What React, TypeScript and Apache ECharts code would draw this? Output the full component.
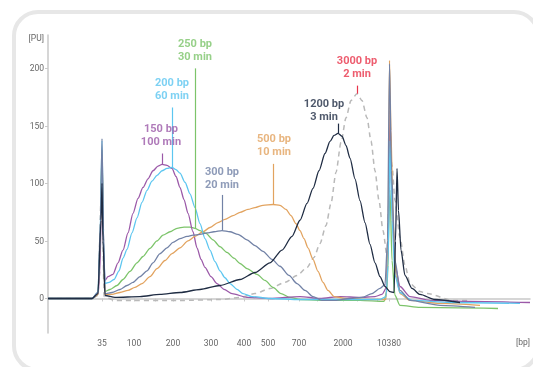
import React, { useEffect, useRef } from "react";
import * as echarts from "echarts";

// x = migration position (axis units), y = fluorescence [PU]
const xTickPositions = [54, 64, 86, 107, 125, 163, 196, 220, 240, 251, 269, 295, 309, 329, 341];
const xLabelPositions = [54, 86, 125, 163, 196, 220, 251, 295, 341];
const xLabelTexts = ["35", "100", "200", "300", "400", "500", "700", "2000", "10380"];
const yTickValues = [0, 50, 100, 150, 200];

const purple150: [number, number][] = [
  [0, 0], [44, 0], [50, 3.5], [52, 24], [54, 124], [55.5, 42], [57, 15.7], [60, 19], [65, 21], [70, 31], [75, 42],
  [80, 57], [85, 74], [90, 87], [95, 96.5], [100, 104], [105, 111], [110, 115], [114, 116.5], [119, 115.7],
  [124, 113], [128, 106], [132, 96.5], [136, 86], [140, 74], [145, 58], [149, 44], [153, 34], [157, 27],
  [163, 19], [169, 13], [176, 8], [184, 4.3], [199, 0.9], [222, 0], [252, 1.7], [272, 0], [292, 1.7],
  [312, 0.9], [327, 1.7], [334, 3.5], [338, 8.7], [340, 42], [342, 163], [344, 85], [347, 28.7], [352, 10.4],
  [362, 1.7], [382, -1.7], [422, -2.6], [482, -3.5],
];
const blue200: [number, number][] = [
  [0, 0], [44, 0], [50, 5.2], [52, 50], [54, 137], [55.5, 50], [57, 13], [61, 14], [66, 16.5], [71, 24], [75, 35],
  [79, 42.6], [84, 57], [89, 70], [94, 83.5], [99, 94], [104, 102], [109, 107], [114, 111], [119, 113],
  [124, 114], [128, 112], [132, 109], [137, 101], [142, 91], [147, 79], [152, 65], [157, 52], [162, 42],
  [167, 32], [172, 24], [177, 18], [182, 13], [189, 8], [195, 4.3], [204, 1.7], [222, 0], [252, -0.9],
  [292, -0.9], [332, -0.9], [338, 1.7], [340, 28.7], [342, 137], [344, 68], [347, 20], [352, 5.2],
  [364, -1.7], [402, -3.5], [472, -4.3],
];
const green250: [number, number][] = [
  [0, 0], [44, 0], [50, 3.5], [52, 42], [54, 129], [55.5, 42], [57, 6], [62, 7.8], [69, 11.3], [75, 16.5],
  [82, 23.5], [89, 31], [95, 36.5], [102, 43.5], [109, 50], [115, 55], [122, 58], [129, 61], [136, 62],
  [142, 62], [147, 61], [152, 59], [158, 56.5], [165, 51], [172, 45], [179, 40], [186, 35], [192, 30.4],
  [199, 26], [209, 21], [217, 15.7], [225, 9.6], [233, 4.3], [242, 0.9], [252, -0.9], [282, -1.7],
  [312, -1.7], [336, -2.6], [339, 7], [342, 94], [344, 33], [347, 2.6], [352, -6], [372, -7.8], [450, -8.7],
];
const slate300: [number, number][] = [
  [0, 0], [44, 0], [50, 5.2], [52.5, 68], [54, 139], [55.5, 59], [57, 4.3], [64, 5.2], [72, 7.8], [79, 11.3],
  [85, 14], [92, 19], [99, 24], [105, 31], [112, 39], [119, 44], [125, 48.7], [132, 52], [139, 54],
  [145, 55], [152, 55.7], [159, 57], [166, 58], [174, 59], [182, 58], [190, 55.7], [199, 51], [207, 46],
  [215, 41], [224, 34], [232, 28], [241, 20], [249, 13], [257, 7], [265, 1.7], [274, -1.7], [287, -1.7],
  [302, 0], [314, 0.9], [324, 4.3], [332, 8.7], [337, 12], [339.5, 50], [341.5, 204], [343.5, 111],
  [347, 33], [352, 7], [362, -1.7], [392, -6], [427, -7.8],
];
const orange500: [number, number][] = [
  [0, 0], [44, 0], [50, 3.5], [52.5, 59], [54, 129], [55.5, 50], [57, 3.5], [64, 3.5], [72, 5.2], [80, 7],
  [87, 9.6], [94, 13], [102, 19], [109, 26], [117, 33], [124, 39], [132, 44], [140, 50], [147, 54],
  [155, 58], [162, 61.7], [170, 66], [177, 68.7], [185, 72], [192, 74.8], [200, 77.4], [207, 79],
  [215, 81], [225, 81.7], [232, 81], [238, 77.4], [243, 72], [248, 65], [252, 59], [256, 52], [260, 44],
  [265, 34], [270, 23.5], [275, 14], [280, 7], [286, 1.7], [297, 0], [322, -0.9], [338, -0.9], [340, 42],
  [341.5, 207], [343, 146], [345, 68], [348, 20], [352, 4.3], [362, -1.7], [392, -4.3], [432, -6],
];
const navy1200: [number, number][] = [
  [0, 0], [44, 0], [50, 4.3], [53, 68], [54, 100], [55, 50], [57, 2.6], [67, 0.9], [92, 1.7], [112, 3.5],
  [132, 5.2], [152, 7.8], [172, 11.3], [192, 16.5], [207, 22.6], [222, 31], [234, 42], [244, 54], [252, 68],
  [259, 82.6], [265, 95.7], [271, 111], [277, 126], [282, 136.5], [286, 141.7], [290, 143.5], [294, 141],
  [298, 133], [302, 122], [307, 104], [312, 85], [317, 66], [322, 47], [327, 31], [332, 19], [337, 10.4],
  [342, 6], [346, 5.2], [347.5, 50], [349, 113], [350.5, 76.5], [353, 42], [357, 20], [364, 8.7],
  [372, 3.5], [387, -0.9], [412, -3.5],
];
const grey3000: [number, number][] = [
  [0, 0], [44, 0], [50, 2.6], [53, 85], [54, 111], [55, 50], [56, 1.7], [67, -1.7], [132, -1.7], [172, -0.9],
  [192, 0.9], [207, 4.3], [222, 8.7], [237, 14], [249, 20], [259, 27], [266, 35.7], [272, 47.8], [278, 63.5],
  [283, 82.6], [288, 109.6], [293, 135.7], [298, 157], [303, 172], [309, 178], [314, 172], [319, 157],
  [323, 137], [327, 111], [331, 85], [335, 59], [339, 37], [341, 85], [342, 129], [344, 116], [347, 85],
  [352, 53], [357, 28.7], [362, 13], [372, 6], [379, 4.3], [405, -1.7], [422, -1.7],
];

// annotation: label centre, leader (x, bottom, top), text
const annoNames = ["150 bp\n100 min", "200 bp\n60 min", "250 bp\n30 min", "300 bp\n20 min", "500 bp\n10 min", "1200 bp\n3 min", "3000 bp\n2 min"];
const annoLabelPos: [number, number][] = [[113, 142], [124, 182], [147, 216], [174, 105], [226, 133.5], [276, 163.5], [309, 201]];
const annoLeaders: [number, number, number][] = [[114, 116.5, 126], [124, 114, 166], [147, 61, 200], [174, 59, 90], [225, 81.7, 117], [290, 143.5, 152], [309, 178, 185]];

const C = {
  purple: "#9b59a8",
  blue: "#5cc6f0",
  green: "#7cc46a",
  slate: "#7282a6",
  orange: "#e2a35f",
  navy: "#1f2c43",
  grey: "#b9b9b9",
  red: "#e8334a",
};

export default function App() {
  const ref = useRef<HTMLDivElement>(null);
  useEffect(() => {
    if (!ref.current) return;
    const chart = echarts.init(ref.current, undefined, { renderer: "svg" });
    const seriesDefs = [
      { name: "3000 bp", data: grey3000, color: C.grey, dashed: true, anno: 6, textColor: C.red },
      { name: "250 bp", data: green250, color: C.green, anno: 2, textColor: C.green },
      { name: "150 bp", data: purple150, color: C.purple, anno: 0, textColor: C.purple },
      { name: "500 bp", data: orange500, color: C.orange, anno: 4, textColor: C.orange },
      { name: "200 bp", data: blue200, color: C.blue, anno: 1, textColor: C.blue },
      { name: "300 bp", data: slate300, color: C.slate, anno: 3, textColor: C.slate },
      { name: "1200 bp", data: navy1200, color: C.navy, anno: 5, textColor: C.navy },
    ];
    const lineSeries = seriesDefs.map((s) => {
      const l = annoLeaders[s.anno];
      return {
        type: "line",
        name: s.name,
        data: s.data,
        showSymbol: false,
        symbol: "none",
        smooth: 0.25,
        smoothMonotone: "x",
        lineStyle: { color: s.color, width: s.dashed ? 1.5 : 1.3, type: s.dashed ? [5, 4] : "solid" },
        itemStyle: { color: s.color },
        silent: true,
        markLine: {
          silent: true,
          symbol: ["none", "none"],
          label: { show: false },
          lineStyle: { color: s.dashed ? C.red : s.color, type: "solid", width: 1.2 },
          data: [[{ coord: [l[0], l[1]] }, { coord: [l[0], l[2]] }]],
        },
      };
    });
    const annoSeries = {
      type: "scatter",
      silent: true,
      symbolSize: 1,
      itemStyle: { color: "rgba(0,0,0,0)" },
      z: 10,
      data: seriesDefs.map((s) => ({
        value: annoLabelPos[s.anno],
        label: {
          show: true,
          position: "inside",
          formatter: annoNames[s.anno],
          color: s.textColor,
          fontFamily: "Roboto",
          fontWeight: "bold",
          fontSize: 11,
          lineHeight: 13,
          align: "center",
        },
      })),
    };
    const axisGrey = "#c9c9c9";
    const labelGrey = "#666";
    chart.setOption({
      animation: false,
      graphic: [
        {
          type: "rect",
          shape: { x: 14, y: 12, width: 524, height: 358, r: 24 },
          style: { fill: "none", stroke: "#e7e7e7", lineWidth: 4 },
          silent: true,
          z: -10,
        },
        {
          type: "text",
          x: 530,
          y: 342,
          style: { text: "[bp]", fill: labelGrey, fontSize: 8.5, fontFamily: "Roboto", align: "right", verticalAlign: "middle" },
          silent: true,
        },
      ],
      grid: { left: 48, right: 3, top: 35, bottom: 34, containLabel: false, outerBoundsMode: "none" },
      xAxis: {
        type: "value",
        min: 0,
        max: 482,
        axisLine: { show: true, lineStyle: { color: axisGrey, width: 1.5 } },
        axisTick: { show: true, length: 3, customValues: xTickPositions, lineStyle: { color: axisGrey } },
        axisLabel: {
          show: true,
          customValues: xLabelPositions,
          formatter: (v: number) => {
            const i = xLabelPositions.indexOf(v);
            return i >= 0 ? xLabelTexts[i] : "";
          },
          color: labelGrey,
          fontSize: 8.5,
          fontFamily: "Roboto",
          margin: 5,
        },
        splitLine: { show: false },
      },
      yAxis: {
        type: "value",
        min: -30,
        max: 229,
        name: "[PU]",
        nameLocation: "end",
        nameGap: -3,
        nameTextStyle: { color: labelGrey, fontSize: 8.5, fontFamily: "Roboto", align: "right", verticalAlign: "middle", padding: [0, 4, 0, 0] },
        axisLine: { show: true, lineStyle: { color: axisGrey, width: 1.5 } },
        axisTick: { show: true, length: 3, customValues: yTickValues, lineStyle: { color: axisGrey } },
        axisLabel: { show: true, customValues: yTickValues, color: labelGrey, fontSize: 8.5, fontFamily: "Roboto", margin: 4 },
        splitLine: { show: false },
      },
      series: [...lineSeries, annoSeries],
    });
    return () => chart.dispose();
  }, []);
  return <div ref={ref} style={{ position: "fixed", left: 0, top: 0, width: 533, height: 367 }} />;
}
